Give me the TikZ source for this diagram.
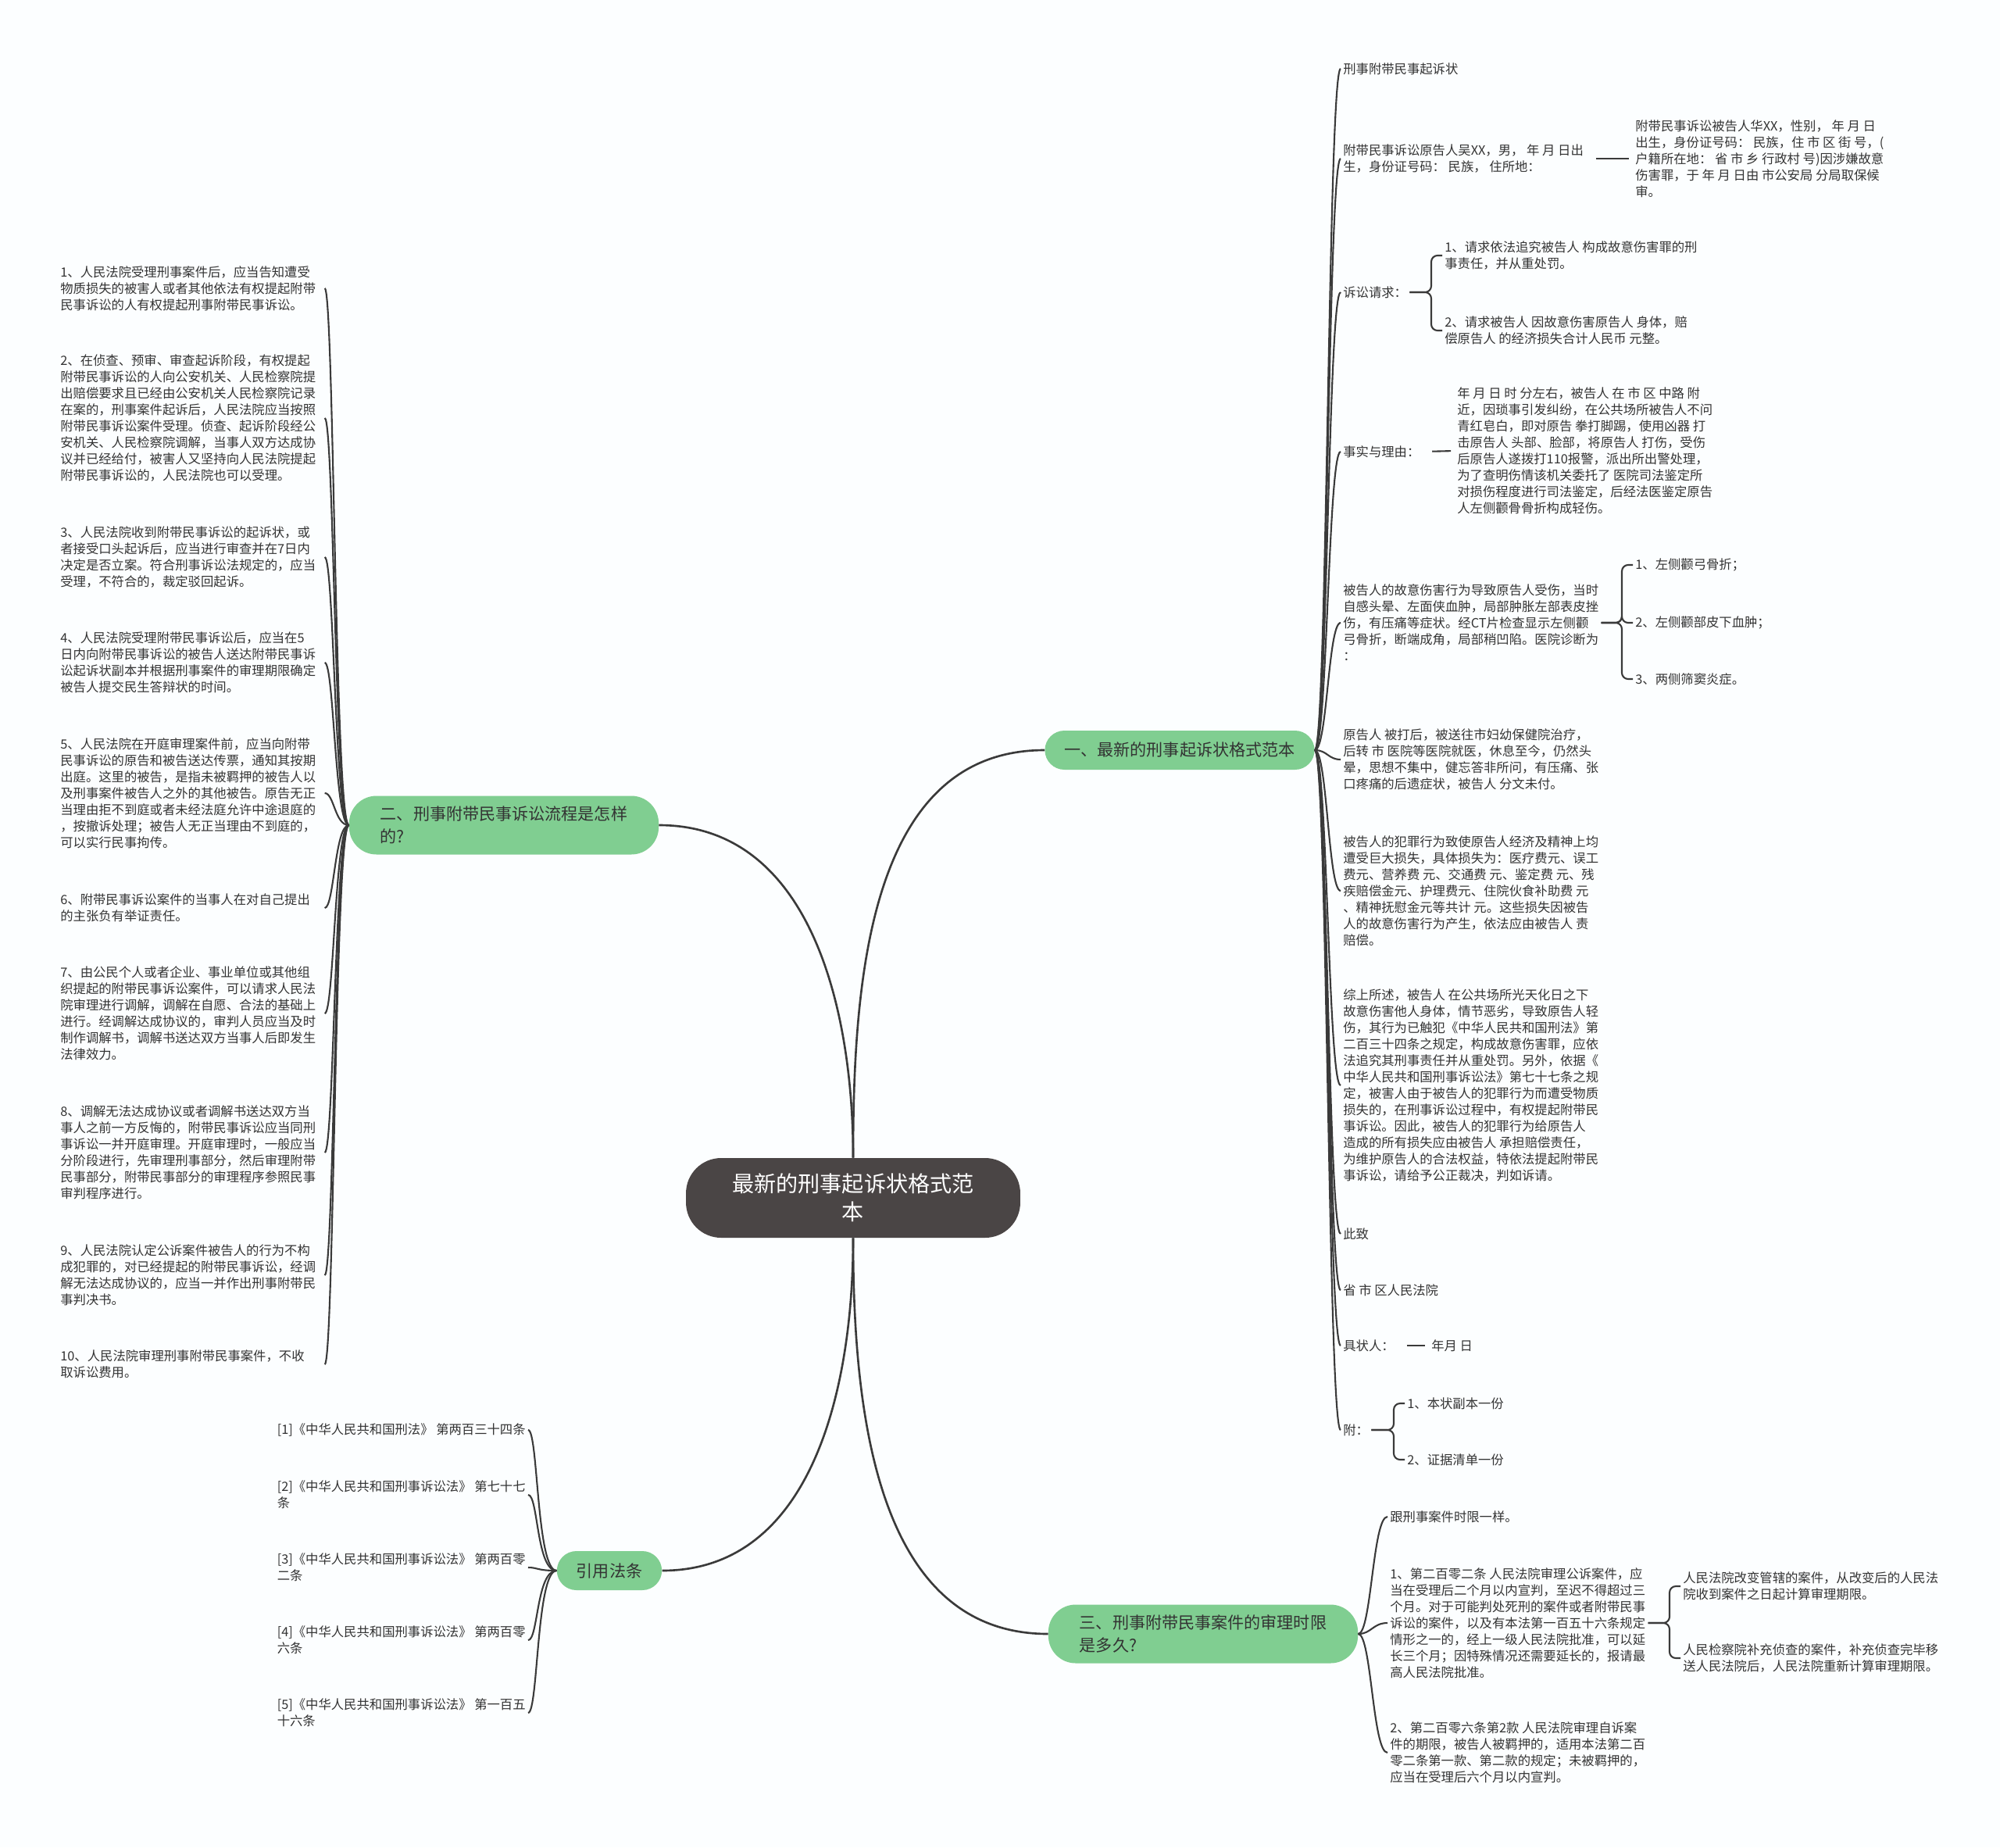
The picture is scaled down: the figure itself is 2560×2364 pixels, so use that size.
\documentclass[tikz,border=0pt]{standalone}
\usepackage{fontspec}
\setmainfont{Noto Sans CJK SC}
\usetikzlibrary{calc}
\definecolor{topicgreen}{HTML}{80CE91}
\definecolor{rootdark}{HTML}{4A4545}
\definecolor{linkgray}{HTML}{3A3A3A}
\definecolor{inkgray}{HTML}{333333}
\definecolor{paper}{HTML}{FCFEFF}
\begin{document}
\begin{tikzpicture}[
  x=0.02cm, y=0.02cm,
  rootnode/.style={fill=rootdark, text=white, rounded corners=0.9cm, align=center, minimum width=8.56cm, minimum height=2.04cm, font=\fontsize{16}{20.5}\selectfont},
  topicnode/.style={fill=topicgreen, text=inkgray, rounded corners=0.5cm, align=left, inner xsep=0.5cm, minimum height=1cm, font=\fontsize{12}{16.4}\selectfont},
  widetopic/.style={topicnode, inner xsep=0.8cm, minimum height=1.5cm, rounded corners=0.7cm},
  leafnode/.style={text=inkgray, align=left, inner sep=0.06cm, font=\fontsize{9.3}{11.95}\selectfont},
  trunkline/.style={draw=linkgray, line width=1.5pt},
  linkline/.style={draw=linkgray, line width=1.2pt},
  forklink/.style={linkline, rounded corners=0.16cm},
  dashlink/.style={linkline, shorten <=0.25cm, shorten >=0.1cm}
]
\fill[paper] (0,0) rectangle (2560,-2364);
\useasboundingbox (0,0) rectangle (2560,-2364);

\node[rootnode] (root) at (1092,-1533) {最新的刑事起诉状格式范\\本};
\node[topicnode] (t1) at (1510,-960) {一、最新的刑事起诉状格式范本};
\node[widetopic] (t2) at (645,-1056) {二、刑事附带民事诉讼流程是怎样\\的?};
\node[widetopic] (t3) at (1540,-2091) {三、刑事附带民事案件的审理时限\\是多久?};
\node[topicnode] (t4) at (780,-2010) {引用法条};

\draw[trunkline] (root.north) to[out=90,in=0] (t2.east);
\draw[trunkline] (root.north) to[out=90,in=180] (t1.west);
\draw[trunkline] (root.south) to[out=-90,in=0] (t4.east);
\draw[trunkline] (root.south) to[out=-90,in=180] (t3.west);

\node[leafnode, text width=6.7cm, anchor=west] (l1) at (74,-369) {1、人民法院受理刑事案件后，应当告知遭受\\物质损失的被害人或者其他依法有权提起附带\\民事诉讼的人有权提起刑事附带民事诉讼。};
\node[leafnode, text width=6.7cm, anchor=west] (l2) at (74,-535) {2、在侦查、预审、审查起诉阶段，有权提起\\附带民事诉讼的人向公安机关、人民检察院提\\出赔偿要求且已经由公安机关人民检察院记录\\在案的，刑事案件起诉后，人民法院应当按照\\附带民事诉讼案件受理。侦查、起诉阶段经公\\安机关、人民检察院调解，当事人双方达成协\\议并已经给付，被害人又坚持向人民法院提起\\附带民事诉讼的，人民法院也可以受理。};
\node[leafnode, text width=6.7cm, anchor=west] (l3) at (74,-713) {3、人民法院收到附带民事诉讼的起诉状，或\\者接受口头起诉后，应当进行审查并在7日内\\决定是否立案。符合刑事诉讼法规定的，应当\\受理，不符合的，裁定驳回起诉。};
\node[leafnode, text width=6.7cm, anchor=west] (l4) at (74,-848) {4、人民法院受理附带民事诉讼后，应当在5\\日内向附带民事诉讼的被告人送达附带民事诉\\讼起诉状副本并根据刑事案件的审理期限确定\\被告人提交民生答辩状的时间。};
\node[leafnode, text width=6.7cm, anchor=west] (l5) at (74,-1015) {5、人民法院在开庭审理案件前，应当向附带\\民事诉讼的原告和被告送达传票，通知其按期\\出庭。这里的被告，是指未被羁押的被告人以\\及刑事案件被告人之外的其他被告。原告无正\\当理由拒不到庭或者未经法庭允许中途退庭的\\，按撤诉处理；被告人无正当理由不到庭的，\\可以实行民事拘传。};
\node[leafnode, text width=6.7cm, anchor=west] (l6) at (74,-1162) {6、附带民事诉讼案件的当事人在对自己提出\\的主张负有举证责任。};
\node[leafnode, text width=6.7cm, anchor=west] (l7) at (74,-1297) {7、由公民个人或者企业、事业单位或其他组\\织提起的附带民事诉讼案件，可以请求人民法\\院审理进行调解，调解在自愿、合法的基础上\\进行。经调解达成协议的，审判人员应当及时\\制作调解书，调解书送达双方当事人后即发生\\法律效力。};
\node[leafnode, text width=6.7cm, anchor=west] (l8) at (74,-1475) {8、调解无法达成协议或者调解书送达双方当\\事人之前一方反悔的，附带民事诉讼应当同刑\\事诉讼一并开庭审理。开庭审理时，一般应当\\分阶段进行，先审理刑事部分，然后审理附带\\民事部分，附带民事部分的审理程序参照民事\\审判程序进行。};
\node[leafnode, text width=6.7cm, anchor=west] (l9) at (74,-1632) {9、人民法院认定公诉案件被告人的行为不构\\成犯罪的，对已经提起的附带民事诉讼，经调\\解无法达成协议的，应当一并作出刑事附带民\\事判决书。};
\node[leafnode, text width=6.7cm, anchor=west] (l10) at (74,-1746) {10、人民法院审理刑事附带民事案件，不收\\取诉讼费用。};

\foreach \c in {l1,l2,l3,l4,l5,l6,l7,l8,l9,l10}
  \draw[linkline] (t2.west) .. controls +(-18,0) and +(12,0) .. (\c.east);

\node[leafnode, anchor=west] (r1) at (1716,-88) {刑事附带民事起诉状};
\node[leafnode, anchor=west] (r2) at (1716,-203) {附带民事诉讼原告人吴XX，男， 年 月 日出\\生，身份证号码： 民族， 住所地：};
\node[leafnode, anchor=west] (r2a) at (2090,-203) {附带民事诉讼被告人华XX，性别， 年 月 日\\出生，身份证号码： 民族，住 市 区 街 号，(\\户籍所在地： 省 市 乡 行政村 号)因涉嫌故意\\伤害罪，于 年 月 日由 市公安局 分局取保候\\审。};
\node[leafnode, anchor=west] (r3) at (1716,-374) {诉讼请求：};
\node[leafnode, anchor=west] (r3a) at (1846,-327) {1、请求依法追究被告人 构成故意伤害罪的刑\\事责任，并从重处罚。};
\node[leafnode, anchor=west] (r3b) at (1846,-423) {2、请求被告人 因故意伤害原告人 身体，赔\\偿原告人 的经济损失合计人民币 元整。};
\node[leafnode, anchor=west] (r4) at (1716,-578) {事实与理由：};
\node[leafnode, anchor=west] (r4a) at (1862,-577) {年 月 日 时 分左右，被告人 在 市 区 中路 附\\近，因琐事引发纠纷，在公共场所被告人不问\\青红皂白，即对原告 拳打脚踢，使用凶器 打\\击原告人 头部、脸部，将原告人 打伤，受伤\\后原告人遂拨打110报警，派出所出警处理，\\为了查明伤情该机关委托了 医院司法鉴定所\\对损伤程度进行司法鉴定，后经法医鉴定原告\\人左侧颧骨骨折构成轻伤。};
\node[leafnode, anchor=west] (r5) at (1716,-797) {被告人的故意伤害行为导致原告人受伤，当时\\自感头晕、左面侠血肿，局部肿胀左部表皮挫\\伤，有压痛等症状。经CT片检查显示左侧颧\\弓骨折，断端成角，局部稍凹陷。医院诊断为\\：};
\node[leafnode, anchor=west] (r5a) at (2090,-723) {1、左侧颧弓骨折；};
\node[leafnode, anchor=west] (r5b) at (2090,-797) {2、左侧颧部皮下血肿；};
\node[leafnode, anchor=west] (r5c) at (2090,-869) {3、两侧筛窦炎症。};
\node[leafnode, anchor=west] (r6) at (1716,-972) {原告人 被打后，被送往市妇幼保健院治疗，\\后转 市 医院等医院就医，休息至今，仍然头\\晕，思想不集中，健忘答非所问，有压痛、张\\口疼痛的后遗症状，被告人 分文未付。};
\node[leafnode, anchor=west] (r7) at (1716,-1140) {被告人的犯罪行为致使原告人经济及精神上均\\遭受巨大损失，具体损失为：医疗费元、误工\\费元、营养费 元、交通费 元、鉴定费 元、残\\疾赔偿金元、护理费元、住院伙食补助费 元\\、精神抚慰金元等共计 元。这些损失因被告\\人的故意伤害行为产生，依法应由被告人 责\\赔偿。};
\node[leafnode, anchor=west] (r8) at (1716,-1389) {综上所述，被告人 在公共场所光天化日之下\\故意伤害他人身体，情节恶劣，导致原告人轻\\伤，其行为已触犯《中华人民共和国刑法》第\\二百三十四条之规定，构成故意伤害罪，应依\\法追究其刑事责任并从重处罚。另外，依据《\\中华人民共和国刑事诉讼法》第七十七条之规\\定，被害人由于被告人的犯罪行为而遭受物质\\损失的，在刑事诉讼过程中，有权提起附带民\\事诉讼。因此，被告人的犯罪行为给原告人\\造成的所有损失应由被告人 承担赔偿责任，\\为维护原告人的合法权益，特依法提起附带民\\事诉讼，请给予公正裁决，判如诉请。};
\node[leafnode, anchor=west] (r9) at (1716,-1579) {此致};
\node[leafnode, anchor=west] (r10) at (1716,-1651) {省 市 区人民法院};
\node[leafnode, anchor=west] (r11) at (1716,-1722) {具状人：};
\node[leafnode, anchor=west] (r11a) at (1829,-1722) {年月 日};
\node[leafnode, anchor=west] (r12) at (1716,-1830) {附：};
\node[leafnode, anchor=west] (r12a) at (1798,-1796) {1、本状副本一份};
\node[leafnode, anchor=west] (r12b) at (1798,-1868) {2、证据清单一份};

\foreach \c in {r1,r2,r3,r4,r5,r6,r7,r8,r9,r10,r11,r12}
  \draw[linkline] (t1.east) .. controls +(16,0) and +(-16,0) .. (\c.west);
\draw[dashlink] (r2.east) -- (r2a.west);
\draw[dashlink] (r4.east) -- (r4a.west);
\draw[dashlink] (r11.east) -- (r11a.west);
\foreach \c in {r3a,r3b}
  \draw[forklink] (r3.east) -| ($(\c.west)+(-14,0)$) -- (\c.west);
\foreach \c in {r5a,r5b,r5c}
  \draw[forklink] (r5.east) -| ($(\c.west)+(-14,0)$) -- (\c.west);
\foreach \c in {r12a,r12b}
  \draw[forklink] (r12.east) -| ($(\c.west)+(-14,0)$) -- (\c.west);

\node[leafnode, anchor=west] (s1) at (1776,-1941) {跟刑事案件时限一样。};
\node[leafnode, anchor=west] (s2) at (1776,-2077) {1、第二百零二条 人民法院审理公诉案件，应\\当在受理后二个月以内宣判，至迟不得超过三\\个月。对于可能判处死刑的案件或者附带民事\\诉讼的案件，以及有本法第一百五十六条规定\\情形之一的，经上一级人民法院批准，可以延\\长三个月；因特殊情况还需要延长的，报请最\\高人民法院批准。};
\node[leafnode, anchor=west] (s2a) at (2151,-2030) {人民法院改变管辖的案件，从改变后的人民法\\院收到案件之日起计算审理期限。};
\node[leafnode, anchor=west] (s2b) at (2151,-2122) {人民检察院补充侦查的案件，补充侦查完毕移\\送人民法院后，人民法院重新计算审理期限。};
\node[leafnode, anchor=west] (s3) at (1776,-2243) {2、第二百零六条第2款 人民法院审理自诉案\\件的期限，被告人被羁押的，适用本法第二百\\零二条第一款、第二款的规定；未被羁押的，\\应当在受理后六个月以内宣判。};

\foreach \c in {s1,s2,s3}
  \draw[linkline] (t3.east) .. controls +(17,0) and +(-19,0) .. (\c.west);
\foreach \c in {s2a,s2b}
  \draw[forklink] (s2.east) -| ($(\c.west)+(-14,0)$) -- (\c.west);

\node[leafnode, anchor=east] (c1) at (676,-1830) {[1]《中华人民共和国刑法》 第两百三十四条};
\node[leafnode, anchor=east] (c2) at (676,-1913) {[2]《中华人民共和国刑事诉讼法》 第七十七\\条};
\node[leafnode, anchor=east] (c3) at (676,-2006) {[3]《中华人民共和国刑事诉讼法》 第两百零\\二条};
\node[leafnode, anchor=east] (c4) at (676,-2099) {[4]《中华人民共和国刑事诉讼法》 第两百零\\六条};
\node[leafnode, anchor=east] (c5) at (676,-2192) {[5]《中华人民共和国刑事诉讼法》 第一百五\\十六条};

\foreach \c in {c1,c2,c3,c4,c5}
  \draw[linkline] (t4.west) .. controls +(-26,0) and +(13,0) .. (\c.east);
\end{tikzpicture}
\end{document}
